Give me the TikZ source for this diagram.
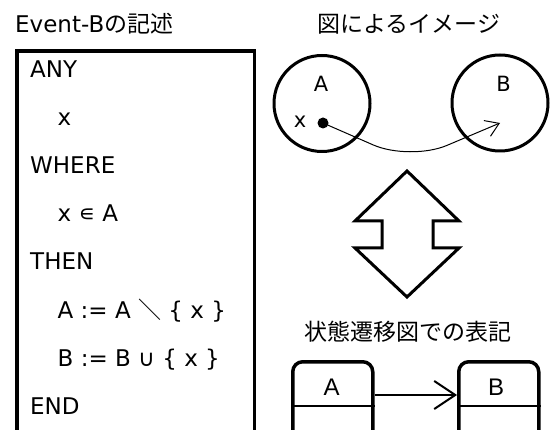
\documentclass[tikz,border=0pt]{standalone}
\usepackage{fontspec}
\usepackage{graphicx}
\setmainfont{DejaVu Sans}
\newfontfamily\jp{Noto Sans CJK JP}
\newfontfamily\lib{Liberation Sans}
\usetikzlibrary{arrows.meta}
\tikzset{
  titletext/.style={inner sep=0pt, font=\fontsize{23}{23}\selectfont},
  codetext/.style={inner sep=0pt, anchor=base west, font=\fontsize{23}{23}\selectfont},
  codebox/.style={draw, line width=3.5pt, inner sep=0pt, anchor=north west, minimum width=237.5pt, minimum height=400pt},
  setcirc/.style={draw, circle, line width=3pt, minimum size=96pt, inner sep=0pt},
  circlbl/.style={inner sep=0pt, anchor=base, font=\fontsize{21}{21}\selectfont},
  elemdot/.style={fill, circle, minimum size=11pt, inner sep=0pt},
  movearrow/.style={line width=1pt, rounded corners=40pt, -{Straight Barb[length=13pt,width=17pt]}},
  dblarrow/.style={line width=3pt, miter limit=10},
  statebox/.style={draw, line width=3.5pt, rounded corners=10pt, inner sep=0pt, anchor=north west, minimum width=80pt, minimum height=90pt},
  statelbl/.style={inner sep=0pt, anchor=base, font=\lib\fontsize{24}{24}\selectfont},
  divider/.style={line width=1.5pt},
  transarrow/.style={line width=2pt, -{Straight Barb[length=21pt,width=28pt]}}
}
\begin{document}
\begin{tikzpicture}[x=1pt,y=-1pt]
\useasboundingbox (0,0) rectangle (554,430);
\clip (0,0) rectangle (554,430);
\fill[white] (0,0) rectangle (554,430);

% titles
\node[titletext, anchor=base west] (t1) at (15,33) {Event-B{\jp の記述}};
\node[titletext, anchor=base] (t2) at (409,33) {\jp 図によるイメージ};
\node[titletext, anchor=base] (t3) at (408,340) {\jp 状態遷移図での表記};

% Event-B code box
\node[codebox] (code) at (15,49.5) {};
\node[codetext] (l1) at (30,78) {ANY};
\node[codetext] (l2) at (57.5,126) {x};
\node[codetext] (l3) at (30,174) {WHERE};
\node[codetext] (l4) at (57.5,222) {x ∊ A};
\node[codetext] (l5) at (30,270) {THEN};
\node[codetext] (l6) at (57.5,318) {A := A {\jp ＼} \{ x \}};
\node[codetext] (l7) at (57.5,366) {B := B ∪ \{ x \}};
\node[codetext] (l8) at (30,414) {END};

% image with sets
\node[setcirc] (A) at (322,103.5) {};
\node[setcirc] (B) at (500,103) {};
\node[circlbl] (Al) at (321,92) {A};
\node[circlbl] (Bl) at (503.5,92) {B};
\node[circlbl] (xl) at (300,128) {x};
\node[elemdot] (dot) at (323,123) {};
\coordinate (low) at (410,161);
\coordinate (tip) at (500,123);
\draw[movearrow] (dot.center) -- (low) -- (tip);

% double arrow
\draw[dblarrow] (407,171) -- (459,221) -- (433,221) -- (433,248) -- (459,248)
  -- (407,297) -- (355,248) -- (382,248) -- (382,221) -- (355,221) -- cycle;

% state diagram
\node[statebox] (SA) at (291,360) {};
\node[statebox] (SB) at (457,360) {};
\coordinate (divy) at (0,406);
\coordinate (arry) at (0,395);
\draw[divider] (SA.west |- divy) -- (SA.east |- divy);
\draw[divider] (SB.west |- divy) -- (SB.east |- divy);
\node[statelbl] (SAl) at (331.5,395) {A};
\node[statelbl] (SBl) at (496,395) {B};
\draw[transarrow] (SA.east |- arry) -- (SB.west |- arry);
\end{tikzpicture}
\end{document}
